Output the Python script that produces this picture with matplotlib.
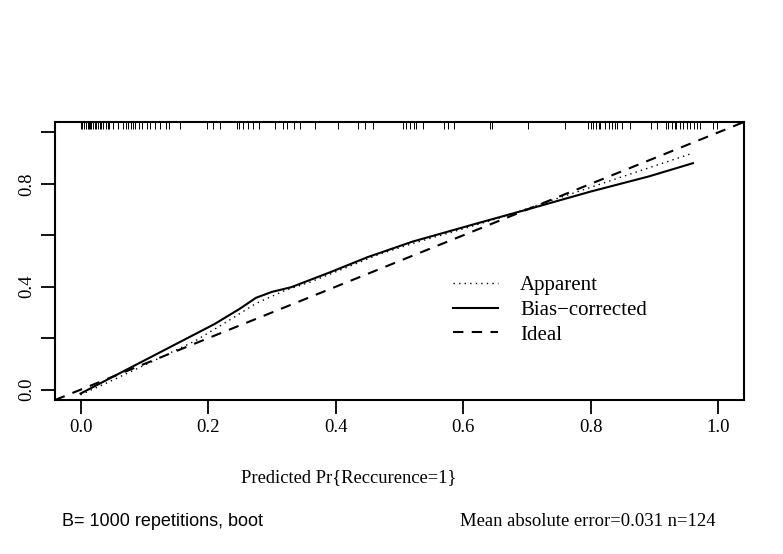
import matplotlib
matplotlib.use("Agg")
import matplotlib.pyplot as plt
from matplotlib.lines import Line2D

# calibration curves
apparent_x = [0.0, 0.04, 0.10, 0.18, 0.23, 0.275, 0.32, 0.36, 0.41, 0.47, 0.53, 0.60, 0.66, 0.75, 0.85, 0.956]
apparent_y = [-0.02, 0.025, 0.095, 0.19, 0.265, 0.335, 0.385, 0.418, 0.468, 0.528, 0.575, 0.625, 0.670, 0.745, 0.828, 0.916]

bias_x = [0.0, 0.07, 0.14, 0.21, 0.25, 0.275, 0.30, 0.33, 0.39, 0.45, 0.52, 0.57, 0.62, 0.70, 0.80, 0.89, 0.96]
bias_y = [-0.015, 0.075, 0.165, 0.255, 0.315, 0.357, 0.38, 0.398, 0.455, 0.515, 0.575, 0.610, 0.645, 0.70, 0.77, 0.828, 0.880]

# predicted values shown as rug at the top
rug = [0.001, 0.003, 0.006, 0.008, 0.011, 0.013, 0.015, 0.017, 0.019, 0.022, 0.025, 0.027,
       0.030, 0.032, 0.035, 0.040, 0.043, 0.045, 0.051, 0.059, 0.067, 0.071, 0.075, 0.079,
       0.083, 0.085, 0.091, 0.097, 0.104, 0.109, 0.117, 0.125, 0.134, 0.138, 0.156, 0.198,
       0.208, 0.219, 0.245, 0.248, 0.255, 0.263, 0.271, 0.279, 0.305, 0.318, 0.323, 0.334,
       0.344, 0.368, 0.403, 0.435, 0.446, 0.459, 0.506, 0.510, 0.516, 0.522, 0.526, 0.537,
       0.569, 0.576, 0.585, 0.642, 0.645, 0.702, 0.759, 0.796, 0.800, 0.804, 0.808, 0.812,
       0.814, 0.822, 0.829, 0.833, 0.838, 0.841, 0.848, 0.862, 0.895, 0.904, 0.918, 0.921,
       0.927, 0.932, 0.934, 0.940, 0.945, 0.950, 0.955, 0.961, 0.966, 0.971, 0.992, 0.998]

xticks = [0.0, 0.2, 0.4, 0.6, 0.8, 1.0]
xticklabels = ["0.0", "0.2", "0.4", "0.6", "0.8", "1.0"]
yticks = [0.0, 0.2, 0.4, 0.6, 0.8, 1.0]
yticklabels = ["0.0", "", "0.4", "", "0.8", ""]

legend_labels = ["Apparent", "Bias\u2212corrected", "Ideal"]

serif = ["Liberation Serif", "DejaVu Serif"]
sans = ["Liberation Sans", "DejaVu Sans"]

fig = plt.figure(figsize=(7.83, 5.54), dpi=100)
ax = fig.add_axes([55 / 783, 1 - 400 / 554, 689 / 783, 278 / 554])

ax.plot(apparent_x, apparent_y, color="black", lw=1.0, linestyle=(0, (1, 3)))
ax.plot(bias_x, bias_y, color="black", lw=1.5, linestyle="-")
ax.axline((0, 0), slope=1, color="black", lw=1.5, linestyle=(0, (5, 4)))

ax.vlines(rug, 0.975, 1.0, transform=ax.get_xaxis_transform(), color="black", lw=0.7)

ax.set_xlim(-0.04, 1.04)
ax.set_ylim(-0.04, 1.04)

ax.set_xticks(xticks)
ax.set_xticklabels(xticklabels, fontfamily=serif, fontsize=13.5)
ax.set_yticks(yticks)
ax.set_yticklabels(yticklabels, fontfamily=serif, fontsize=13.5, rotation=90, va="center")
ax.tick_params(axis="both", direction="out", length=10, width=1.3, pad=4)

for s in ax.spines.values():
    s.set_linewidth(1.5)

handles = [Line2D([], [], color="black", lw=1.0, linestyle=(0, (1, 3))),
           Line2D([], [], color="black", lw=1.5, linestyle="-"),
           Line2D([], [], color="black", lw=1.5, linestyle=(0, (5, 4)))]
ax.legend(handles, legend_labels, loc="upper left", bbox_to_anchor=(0.577, 0.448),
          frameon=False, prop={"family": serif, "size": 15},
          handlelength=2.2, handletextpad=1.05, labelspacing=0.25, borderpad=0,
          borderaxespad=0)

fig.text(349 / 783, 1 - 478 / 554, "Predicted Pr{Reccurence=1}", family=serif,
         fontsize=13.3, ha="center", va="center")
fig.text(62 / 783, 1 - 522 / 554, "B= 1000 repetitions, boot", family=sans,
         fontsize=13, ha="left", va="center")
fig.text(716 / 783, 1 - 522 / 554, "Mean absolute error=0.031 n=124", family=serif,
         fontsize=13.4, ha="right", va="center")

fig.savefig("out.png", dpi=100)
